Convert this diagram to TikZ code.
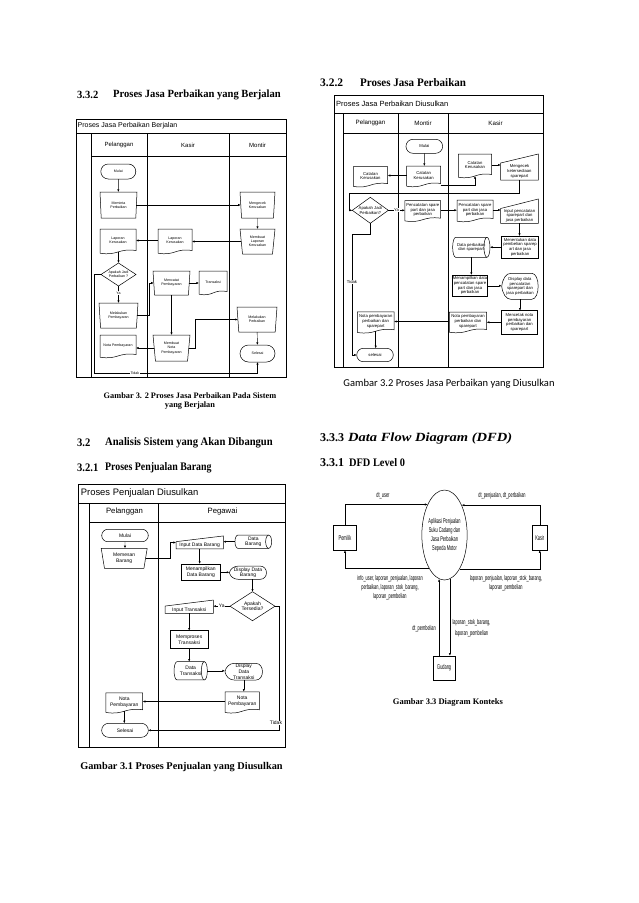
\documentclass[tikz,border=0pt]{standalone}
\usepackage{fontspec}
\setmainfont{Liberation Serif}
\setsansfont{Liberation Sans}
\newfontfamily\narrowf{Liberation Sans}[FakeStretch=0.56]
\newfontfamily\calib{Carlito}
\newfontfamily\hdf{Liberation Serif}
\usetikzlibrary{shapes.geometric,shapes.misc,arrows.meta,calc}

\newcommand\docout[1]{\draw[base] ([yshift=-1.2pt]#1.south west) -- (#1.north west) -- (#1.north east) -- ([yshift=1.5pt]#1.south east) .. controls ([yshift=4pt]#1.south) and ([yshift=-4pt]#1.south) .. ([yshift=-1.2pt]#1.south west) -- cycle;}
\newcommand\minput[2]{\draw[base] (#1.south west) -- (#1.north west) -- ([yshift=#2]#1.north east) -- (#1.south east) -- cycle;}
\newcommand\cyl[2]{\draw[base] ([xshift=3pt]#1.north west) -- ([xshift=-3pt]#1.north east) arc[start angle=90, end angle=-90, x radius=3pt, y radius=#2pt] -- ([xshift=3pt]#1.south west) arc[start angle=270, end angle=90, x radius=3pt, y radius=#2pt] -- cycle;
\draw[base] ([xshift=-3pt]#1.north east) arc[start angle=90, end angle=270, x radius=3pt, y radius=#2pt];}
\newcommand\dispout[1]{\draw[base] (#1.west) .. controls ($(#1.west)!0.6!(#1.north west)+(1pt,0pt)$) and ($(#1.north west)!0.12!(#1.north east)$) .. ($(#1.north west)!0.25!(#1.north east)$) -- ($(#1.north west)!0.82!(#1.north east)$) .. controls ($(#1.north east)+(2pt,0pt)$) and ($(#1.south east)+(2pt,0pt)$) .. ($(#1.south west)!0.82!(#1.south east)$) -- ($(#1.south west)!0.25!(#1.south east)$) .. controls ($(#1.south west)!0.12!(#1.south east)$) and ($(#1.west)!0.6!(#1.south west)+(1pt,0pt)$) .. (#1.west) -- cycle;}

\begin{document}
\begin{tikzpicture}[x=1pt,y=-1pt,
  base/.style={line width=0.5pt},
  frame/.style={line width=0.6pt},
  arr/.style={line width=0.45pt,-{Latex[length=2.6pt,width=2.2pt]}},
  fa/.style={font=\fontsize{3.6}{4.1}\selectfont\sffamily},
  fb/.style={font=\fontsize{4.2}{4.6}\selectfont\sffamily},
  fc/.style={font=\fontsize{5}{5.6}\selectfont\sffamily},
  box/.style={align=center,inner sep=0pt,outer sep=0pt},
  term/.style={box,draw,base,rounded rectangle},
  proc/.style={box,draw,base,rectangle},
  manop/.style={box,draw,base,trapezium,trapezium stretches body,shape border rotate=180,trapezium left angle=#1,trapezium right angle=#1},
  dec/.style={box,draw,base,diamond},
  sz/.style 2 args={minimum width=#1pt,minimum height=#2pt},
  lbl/.style={fill=white,inner sep=0.5pt},
  dfd/.style={font=\fontsize{7}{9}\selectfont\narrowf,inner sep=0pt,align=center},
  hd/.style={inner sep=0pt,anchor=west},
]
\useasboundingbox (0,0) rectangle (638,903);
\fill[white] (0,0) rectangle (638,903);

% ---------------- headings ----------------
\node[hd,font=\hdf\bfseries\fontsize{11}{12}\selectfont\addfontfeature{FakeStretch=0.96}] (h332n) at (77,95) {3.3.2};
\node[hd,font=\hdf\bfseries\fontsize{11}{12}\selectfont\addfontfeature{FakeStretch=0.96}] (h332t) at (113,95) {Proses Jasa Perbaikan yang Berjalan};
\node[align=center,inner sep=0pt,font=\hdf\bfseries\fontsize{8.3}{8.3}\selectfont] (cap32) at (190,401) {Gambar 3. 2 Proses Jasa Perbaikan Pada Sistem\\yang Berjalan};
\node[hd,font=\hdf\bfseries\fontsize{11.5}{12}\selectfont\addfontfeature{FakeStretch=0.92}] (h32n) at (77,443) {3.2};
\node[hd,font=\hdf\bfseries\fontsize{11.5}{12}\selectfont\addfontfeature{FakeStretch=0.92}] (h32t) at (105,443) {Analisis Sistem yang Akan Dibangun};
\node[hd,font=\hdf\bfseries\fontsize{11.5}{12}\selectfont\addfontfeature{FakeStretch=0.92}] (h321n) at (77,468) {3.2.1};
\node[hd,font=\hdf\bfseries\fontsize{11.5}{12}\selectfont\addfontfeature{FakeStretch=0.86}] (h321t) at (105,468) {Proses Penjualan Barang};
\node[inner sep=0pt,font=\hdf\bfseries\fontsize{10.3}{12}\selectfont] (cap31) at (181.5,767) {Gambar 3.1 Proses Penjualan yang Diusulkan};
\node[hd,font=\hdf\bfseries\fontsize{11.5}{12}\selectfont] (h322n) at (320,83) {3.2.2};
\node[hd,font=\hdf\bfseries\fontsize{11.5}{12}\selectfont\addfontfeature{FakeStretch=0.96}] (h322t) at (360,83) {Proses Jasa Perbaikan};
\node[inner sep=0pt,font=\calib\fontsize{10.5}{12}\selectfont] (cap322) at (449,384) {Gambar 3.2 Proses Jasa Perbaikan yang Diusulkan};
\node[hd,font=\hdf\bfseries\fontsize{12}{12}\selectfont] (h333n) at (320,438) {3.3.3};
\node[hd,font=\hdf\bfseries\itshape\fontsize{12.5}{12}\selectfont\addfontfeature{FakeStretch=1.16}] (h333t) at (348,438) {Data Flow Diagram (DFD)};
\node[hd,font=\hdf\bfseries\fontsize{12}{12}\selectfont] (h331n) at (320,462.5) {3.3.1};
\node[hd,font=\hdf\bfseries\fontsize{11.5}{12}\selectfont\addfontfeature{FakeStretch=0.9}] (h331t) at (349,462.5) {DFD Level 0};
\node[inner sep=0pt,font=\hdf\bfseries\fontsize{8.5}{10}\selectfont] (cap33) at (448,702) {Gambar 3.3 Diagram Konteks};

% ================= Diagram 1 =================
\draw[frame] (76,119) rectangle (286,377);
\draw[frame] (76,133) -- (286,133) (91,133) -- (91,377) (91,156) -- (286,156) (147,133) -- (147,377) (229,133) -- (229,377);
\node[hd,font=\fontsize{7}{8}\selectfont\sffamily] (t1) at (77.5,126) {Proses Jasa Perbaikan Berjalan};
\node[font=\fontsize{6}{7}\selectfont\sffamily,inner sep=0pt] (p1) at (119,145) {Pelanggan};
\node[font=\fontsize{6}{7}\selectfont\sffamily,inner sep=0pt] (k1) at (188,145) {Kasir};
\node[font=\fontsize{6}{7}\selectfont\sffamily,inner sep=0pt] (m1) at (257.5,145) {Montir};

\node[term,fa,sz={35}{15}] (mulai1) at (118.3,171.5) {Mulai};
\node[manop=80,fa,sz={37}{26}] (minta) at (118.5,205) {Meminta\\Perbaikan};
\node[manop=77,fa,sz={35}{26}] (cek) at (257.5,205) {Mengecek\\Kerusakan};
\node[manop=77,fa,sz={35}{25}] (buatlap) at (257.5,241.5) {Membuat\\Laporan\\Kerusakan};
\node[box,fa,sz={34}{23}] (lapK) at (175,240.5) {Laporan\\Kerusakan}; \docout{lapK}
\node[box,fa,sz={36}{23}] (lapP) at (118,240.5) {Laporan\\Kerusakan}; \docout{lapP}
\node[dec,fa,sz={35}{23},aspect=1.5] (dia1) at (118.5,274.5) {Apakah Jadi\\Perbaikan ?};
\node[manop=78,fa,sz={39}{25}] (bayar) at (118.5,315.5) {Melakukan\\Pembayaran};
\node[manop=78,fa,sz={37}{24}] (catat) at (171.5,283) {Mencatat\\Pembayaran};
\node[box,fa,sz={28}{22}] (trans) at (213,282) {Transaksi}; \docout{trans}
\node[manop=78,fa,sz={37}{26}] (nota1) at (171.5,348) {Membuat\\Nota\\Pembayaran};
\node[box,fa,sz={36}{21}] (notaP1) at (118,345.5) {Nota Pembayaran}; \docout{notaP1}
\node[manop=75,fa,sz={40}{25}] (perb) at (257,319.5) {Melakukan\\Perbaikan};
\node[term,fa,sz={35}{17}] (sel1) at (257.5,353.5) {Selesai};

\coordinate (b1) at (149,0); \coordinate (b2) at (195,0); \coordinate (b3) at (94,373);
\draw[arr] (mulai1) -- (mulai1 |- minta.north);
\draw[arr] (minta.east) -- (minta.east -| cek.west);
\draw[arr] (cek) -- (buatlap);
\draw[arr] (buatlap.west) -- (buatlap.west -| lapK.east);
\draw[arr] (lapK.west) -- (lapK.west -| lapP.east);
\draw[arr] (dia1.north |- lapP.south) -- (dia1.north);
\draw[arr] (dia1.south) -- node[lbl,fa,pos=0.41] (ya1) {Ya} (dia1.south |- bayar.north);
\draw[arr] (bayar.east) -- (bayar.east -| b1) |- (catat.west);
\draw[arr] (catat.east) -- (catat.east -| trans.west);
\draw[arr] (catat) -- (nota1);
\draw[arr] (nota1.west) -- (nota1.west -| notaP1.east);
\draw[arr] (nota1.east) -- (nota1.east -| b2) |- (perb.west);
\draw[arr] (perb) -- (sel1);
\draw[arr] (dia1.west) -| (b3) -- node[lbl,fa,pos=0.25] (td1) {Tidak} (b3 -| sel1.south) -- (sel1.south);

% ================= Diagram 2 =================
\draw[frame] (334,95) rectangle (543,367);
\draw[frame] (334,113) -- (543,113) (343,113) -- (343,367) (343,133) -- (543,133) (398,113) -- (398,367) (448,113) -- (448,367);
\node[hd,font=\fontsize{7.5}{8}\selectfont\sffamily] (t2) at (336,104) {Proses Jasa Perbaikan Diusulkan};
\node[font=\fontsize{6.2}{7}\selectfont\sffamily,inner sep=0pt] (p2) at (370.5,123) {Pelanggan};
\node[font=\fontsize{6.2}{7}\selectfont\sffamily,inner sep=0pt] (m2) at (423,123) {Montir};
\node[font=\fontsize{6.2}{7}\selectfont\sffamily,inner sep=0pt] (k2) at (495.5,123) {Kasir};

\node[term,fb,sz={36.7}{14}] (mulai2) at (424.3,146.3) {Mulai};
\node[box,fb,sz={34}{19}] (ckM) at (423.7,175.5) {Catatan\\Kerusakan}; \docout{ckM}
\node[box,fb,sz={34.4}{18.5}] (ckP) at (370.5,175.9) {Catatan\\Kerusakan}; \docout{ckP}
\node[box,fb,sz={33.4}{22}] (ckK) at (475,165) {Catatan\\Kerusakan}; \docout{ckK}
\node[box,fb,sz={37.6}{17}] (cekSp) at (519.5,171.5) {Mengecek\\ketersediaan\\sparepart}; \minput{cekSp}{9pt}
\node[dec,fb,sz={36}{26},aspect=1.4] (dia2) at (370.3,210.3) {Apakah Jadi\\Perbaikan?};
\node[box,fb,sz={35.7}{19}] (pcM) at (422.8,210.2) {Pencatatan spare\\part dan jasa\\perbaikan}; \docout{pcM}
\node[box,fb,sz={36}{20}] (pcK) at (475,210) {Pencatatan spare\\part dan jasa\\perbaikan}; \docout{pcK}
\node[box,fb,sz={37.6}{14.8}] (inSp) at (519.5,215.9) {Input pencatatan\\sparepart dan\\jasa perbaikan}; \minput{inSp}{9.5pt}
\node[proc,fb,sz={36.6}{22.3}] (tentu) at (520,247.2) {Menentukan data\\pembelian sparep\\art dan jasa\\perbaikan};
\node[box,fb,sz={37.3}{20}] (dataP) at (471.3,247.3) {Data perbaikan\\dan sparepart}; \cyl{dataP}{10}
\node[proc,fb,sz={35}{21.7}] (tampil) at (470,285.8) {Menampilkan data\\pencatatan spare\\part dan jasa\\perbaikan};
\node[box,fb,sz={36.6}{26}] (disp2) at (520,286.3) {Display data\\pencatatan\\sparepart dan\\jasa perbaikan}; \dispout{disp2}
\node[proc,fb,sz={35.6}{23.3}] (cetak) at (519.5,322.3) {Mencetak nota\\pembayaran\\perbaikan dan\\sparepart};
\node[box,fb,sz={37.4}{19}] (notaK) at (468,321.5) {Nota pembayaran\\perbaikan dan\\sparepart}; \docout{notaK}
\node[box,fb,sz={36.7}{19.5}] (notaP) at (375.7,321.5) {Nota pembayaran\\perbaikan dan\\sparepart}; \docout{notaP}
\node[term,fb,sz={36.6}{13.4}] (sel2) at (375,355) {selesai};

\coordinate (c1) at (0,185); \coordinate (c2) at (349,193); \coordinate (c3) at (352,234);
\draw[arr] (mulai2) -- (mulai2 |- ckM.north);
\draw[arr] (ckM.west) -- (ckM.west -| ckP.east);
\draw[arr] (ckM.east |- c1) -| (ckK.south);
\draw[arr] (ckK.east) -- (ckK.east -| cekSp.west);
\draw[arr] (cekSp.south) |- (c2) |- (dia2.west);
\draw[arr] (dia2.east) -- node[lbl,fb] (ya2) {Ya} (dia2.east -| pcM.west);
\draw[arr] (pcM.east) -- (pcM.east -| pcK.west);
\draw[arr] (pcK.east) -- (pcK.east -| inSp.west);
\draw[arr] (inSp.south) -- (inSp.south |- tentu.north);
\draw[arr] (tentu.west) -- (tentu.west -| dataP.east);
\draw[arr] (dataP.south) -- (dataP.south |- tampil.north);
\draw[arr] (tampil.east) -- (tampil.east -| disp2.west);
\draw[arr] (disp2.south) -- (disp2.south |- cetak.north);
\draw[arr] (cetak.west) -- (cetak.west -| notaK.east);
\draw[arr] (notaK.west) -- (notaK.west -| notaP.east);
\draw[arr] (notaP.south) -- (notaP.south |- sel2.north);
\draw[arr] (dia2.south) |- (c3) |- node[lbl,fb,pos=0.2] (td2) {Tidak} (sel2.west);

% ================= Diagram 3 =================
\draw[frame] (78,484) rectangle (285,747);
\draw[frame] (78,503) -- (285,503) (89,503) -- (89,747) (89,522) -- (285,522) (158,503) -- (158,747);
\node[hd,font=\fontsize{9.4}{10}\selectfont\sffamily] (t3) at (80.7,493.3) {Proses Penjualan Diusulkan};
\node[font=\fontsize{7.7}{8}\selectfont\sffamily,inner sep=0pt] (p3) at (124.5,512) {Pelanggan};
\node[font=\fontsize{7.7}{8}\selectfont\sffamily,inner sep=0pt] (g3) at (222.5,512) {Pegawai};

\node[term,fc,sz={46.6}{12.4}] (mulai3) at (125,535.5) {Mulai};
\node[manop=72,fc,sz={46}{20}] (pesan) at (124.2,558.3) {Memesan\\Barang};
\node[box,fc,sz={47.3}{7.3}] (inBrg) at (199.7,545.3) {Input Data Barang}; \minput{inBrg}{5.7pt}
\node[box,fc,sz={36.7}{13.3}] (dBrg) at (253.3,541.7) {Data\\Barang}; \cyl{dBrg}{6.65}
\node[proc,fc,sz={38.3}{16.7}] (tmpB) at (200.8,572.3) {Menampilkan\\Data Barang};
\node[box,fc,sz={37.3}{13.3}] (dispB) at (248,572.7) {Display Data\\Barang}; \dispout{dispB}
\node[dec,fc,sz={45}{29},aspect=1.55] (dia3) at (252.5,606.2) {Apakah\\Tersedia?};
\node[box,fc,sz={48.3}{7.3}] (inTr) at (189.2,609.7) {Input Transaksi}; \minput{inTr}{6pt}
\node[proc,fc,sz={38.3}{17.7}] (proses) at (189.2,639.5) {Memproses\\Transaksi};
\node[box,fc,sz={33.3}{18.3}] (dTr) at (190.7,670.8) {Data\\Transaksi}; \cyl{dTr}{9.15}
\node[box,fc,sz={37.7}{16.7}] (dispT) at (243.8,671.7) {Display\\Data\\Transaksi}; \dispout{dispT}
\node[box,fc,sz={34.3}{19.5}] (notaG) at (242.2,701.5) {Nota\\Pembayaran}; \docout{notaG}
\node[box,fc,sz={36.7}{18.5}] (notaC) at (124.3,702) {Nota\\Pembayaran}; \docout{notaC}
\node[term,fc,sz={46.7}{14}] (sel3) at (125,730.3) {Selesai};

\coordinate (d1) at (170,542.5); \coordinate (d2) at (279,0);
\draw[arr] (mulai3) -- (mulai3 |- pesan.north);
\draw[arr] (pesan.east) -| (d1) -- (d1 -| inBrg.west);
\draw[arr] (dBrg.west) -- (dBrg.west -| inBrg.east);
\draw[arr] (inBrg.south) -- (inBrg.south |- tmpB.north);
\draw[arr] (tmpB.east) -- (tmpB.east -| dispB.west);
\draw[arr] (dia3.north |- dispB.south) -- (dia3.north);
\draw[arr] (dia3.west) -- node[lbl,fc] (ya3) {Ya} (dia3.west -| inTr.east);
\draw[arr] (inTr.south) -- (inTr.south |- proses.north);
\draw[arr] (proses.south) -- (proses.south |- dTr.north);
\draw[arr] (dTr.east) -- (dTr.east -| dispT.west);
\draw[arr] (dispT.south) -- (dispT.south |- notaG.north);
\draw[arr] (notaG.west) -- (notaG.west -| notaC.east);
\draw[arr] (notaC.south) -- (notaC.south |- sel3.north);
\draw[arr] (dia3.east) -- (dia3.east -| d2) |- node[lbl,fc,pos=0.47,xshift=-3pt] (td3) {Tidak} (sel3.east);

% ================= Diagram 4 (DFD) =================
\node[draw,base,ellipse,minimum width=45pt,minimum height=90pt,inner sep=0pt,align=center,font=\fontsize{7}{9}\selectfont\narrowf] (app) at (444.5,535) {Aplikasi Penjualan\\Suku Cadang dan\\Jasa Perbaikan\\Sepeda Motor};
\node[draw,base,dfd,sz={23.3}{24.3}] (pemilik) at (345,537.8) {Pemilik};
\node[draw,base,dfd,sz={15}{24.3}] (kasir) at (539.8,537.8) {Kasir};
\node[draw,base,dfd,sz={21.7}{24}] (gudang) at (444.2,668) {Gudang};

\draw[arr] (pemilik.north) |- (app.119.25);
\draw[arr] (kasir.north) |- (app.60.75);
\draw[arr] (app.245.1) -| (pemilik.south);
\draw[arr] (app.294.9) -| (kasir.south);
\draw[arr] (app.263.2 |- gudang.north) -- (app.263.2);
\draw[arr] (app.277.2) -- (app.277.2 |- gudang.north);

\node[dfd] (l1) at (383,495.5) {dt\_user};
\node[dfd] (l2) at (502,495.5) {dt\_penjualan, dt\_perbaikan};
\node[dfd] (l3) at (390,588) {info\_user, laporan\_penjualan, laporan\\perbaikan, laporan\_stok\_barang,\\laporan\_pembelian};
\node[dfd] (l4) at (506,583.5) {laporan\_penjualan, laporan\_stok\_barang,\\laporan\_pembelian};
\node[dfd,anchor=east] (l5) at (436,628.3) {dt\_pembelian};
\node[dfd,font=\fontsize{7}{10.5}\selectfont\narrowf] (l6) at (471.5,628) {laporan\_stok\_barang,\\laporan\_pembelian};
\end{tikzpicture}
\end{document}
